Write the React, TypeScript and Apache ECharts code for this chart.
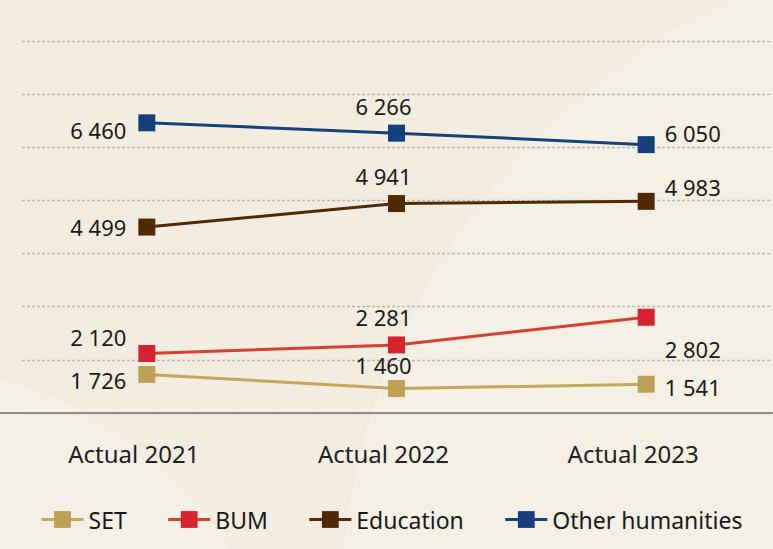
import React, { useEffect, useRef } from "react";
import * as echarts from "echarts";

const categories = ["Actual 2021", "Actual 2022", "Actual 2023"];
const setValues = [1726, 1460, 1541];
const bumValues = [2120, 2281, 2802];
const educationValues = [4499, 4941, 4983];
const otherValues = [6460, 6266, 6050];
const seriesNames = ["SET", "BUM", "Education", "Other humanities"];
const yMin = 1000;
const yMax = 8000;
const yInterval = 1000;

const FONT = "'Noto Sans', 'Open Sans', sans-serif";

// label placement per series per point: [position, offsetX, offsetY]
const labelPlacement: Array<Array<[string, number, number]>> = [
  [["left", -4, 6], ["top", -13, 4], ["right", 2, 3]],
  [["left", -4, -16], ["top", -13, 0], ["right", 2, 32]],
  [["left", -4, 0], ["top", -13, 0], ["right", 2, -14]],
  [["left", -4, 7], ["top", -13, 0], ["right", 2, -12]],
];

const fmt = (v: number) => {
  const s = String(Math.round(v));
  return s.replace(/\B(?=(\d{3})+(?!\d))/g, " ");
};

export default function App() {
  const ref = useRef<HTMLDivElement>(null);
  useEffect(() => {
    document.body.style.margin = "0";
    if (!ref.current) return;
    const chart = echarts.init(ref.current, null, { renderer: "svg" });
    const allValues = [setValues, bumValues, educationValues, otherValues];
    const colors = ["#BFA156", "#D6232F", "#4F2A05", "#13407A"];
    const lineColors = ["#C4A65C", "#D6402F", "#4F2A05", "#16417A"];
    const series = allValues.map((vals, si) => ({
      name: seriesNames[si],
      type: "line",
      symbol: "rect",
      symbolSize: 17,
      itemStyle: { color: colors[si] },
      lineStyle: { color: lineColors[si], width: 3 },
      z: 10 - si,
      data: vals.map((v, i) => {
        const [pos, ox, oy] = labelPlacement[si][i];
        return {
          value: v,
          label: {
            show: true,
            position: pos,
            offset: [ox, oy],
            distance: 8,
            formatter: () => fmt(v),
            color: "#1a1a1a",
            fontSize: 22,
            fontFamily: FONT,
          },
        };
      }),
    }));
    chart.setOption({
      animation: false,
      backgroundColor: "#F2EDE0",
      graphic: [
        {
          type: "circle",
          shape: { cx: 1030, cy: 620, r: 690 },
          style: { fill: "#F4F0E5" },
          z: -10,
          silent: true,
        },
        {
          type: "circle",
          shape: { cx: -120, cy: 780, r: 420 },
          style: { fill: "#F4F0E5" },
          z: -10,
          silent: true,
        },
        {
          type: "line",
          shape: { x1: 0, y1: 413, x2: 773, y2: 413 },
          style: { stroke: "#8E8C88", lineWidth: 2 },
          z: 5,
          silent: true,
        },
      ],
      grid: { left: 22, right: 2, top: 41, bottom: 136 },
      legend: {
        data: seriesNames,
        left: 35,
        top: 503,
        itemWidth: 42,
        itemHeight: 21,
        itemGap: 40,
        lineStyle: { width: 3 },
        textStyle: { fontSize: 23, color: "#1a1a1a", fontFamily: FONT },
      },
      xAxis: {
        type: "category",
        data: categories,
        axisLine: { show: false },
        axisTick: { show: false },
        axisLabel: {
          fontSize: 24,
          color: "#222",
          fontFamily: FONT,
          margin: 28,
          padding: [0, 26, 0, 0],
        },
      },
      yAxis: {
        type: "value",
        min: yMin,
        max: yMax,
        interval: yInterval,
        axisLabel: { show: false },
        axisLine: { show: false },
        axisTick: { show: false },
        splitLine: { lineStyle: { color: "#BDB9B1", width: 1.3, type: [3, 2] } },
      },
      series,
    });
    return () => chart.dispose();
  }, []);
  return (
    <div
      ref={ref}
      style={{ position: "absolute", left: 0, top: 0, width: 773, height: 549 }}
    />
  );
}
